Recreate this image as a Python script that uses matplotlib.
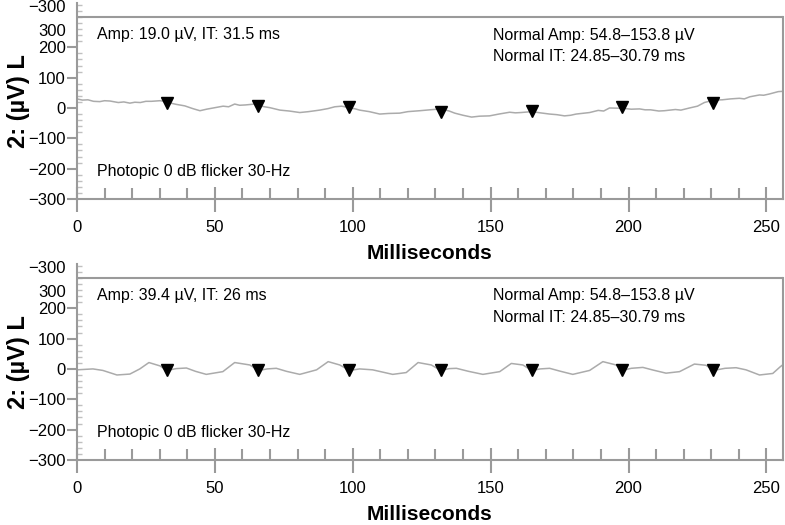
import matplotlib.pyplot as plt
from matplotlib.ticker import MultipleLocator

plt.rcParams['font.family'] = ['Liberation Sans', 'DejaVu Sans']

# Top trace (amplitude 19.0 uV)
top_ms = [0, 2, 4, 6, 8.3, 10, 12, 15, 17, 19.2, 21, 23, 25, 27, 30.1, 32.6, 34, 36,
          39.1, 42, 44.6, 47, 50.0, 53, 55, 57.2, 59, 61, 64.5, 66, 68, 70, 73.6, 77,
          80.8, 84, 88.0, 91, 93.5, 96, 98.6, 101, 102.5, 106, 109.8, 113, 117.0,
          120, 124.3, 128, 131.9, 135, 137.0, 140, 143.1, 146, 149.6, 153, 156.9,
          159, 161, 164.9, 168, 171.4, 174, 176.8, 179, 181, 185.9, 189, 191, 193.1,
          197.8, 201, 204.0, 206, 208, 211, 213.0, 217, 219, 222.1, 225, 227.5,
          230.8, 234, 237, 240.2, 242, 244, 247.5, 249, 251, 254.3, 256]
top_uv = [30, 26, 27, 22, 21, 24, 23, 18, 20, 16, 19, 18, 22, 22, 24, 21, 16, 12,
          7, -2, -9, -4, 1, 6, 4, 13, 9, 10, 13, 8, 4, 1, -7, -10,
          -15, -12, -7, -2, 4, 6, 1, -3, -7, -12, -20, -18, -17,
          -12, -9, -6, -3, -10, -17, -24, -30, -27, -26, -20, -14,
          -16, -15, -12, -16, -20, -22, -26, -24, -20, -15, -8, -10, 0,
          -1, -4, -3, -6, -6, -10, -9, -5, -7, 0, 6, 18,
          26, 27, 30, 32, 30, 37, 43, 42, 46, 54, 55]
top_mark_ms = [32.6, 65.6, 98.6, 131.9, 164.9, 197.8, 230.8]
top_mark_uv = [18, 7, 2, -12, -10, 2, 17]

# Bottom trace (amplitude 39.4 uV)
bot_ms = [0, 5.8, 9.4, 14.5, 19.2, 22.8, 26.1, 30.1, 32.6, 36, 39.7, 43, 46.9, 52.9,
          57.2, 62.7, 65.9, 69, 72.3, 76, 80.8, 86.9, 91.1, 95.3, 98.9, 102.5, 107.2,
          114.5, 119.4, 123.7, 128.5, 131.9, 135, 137.6, 142, 147.2, 153.3, 157.5,
          161.7, 164.9, 168, 171.4, 175, 179.8, 185.9, 190.7, 195.5, 197.8, 201,
          205.2, 209, 213.6, 218.5, 223.9, 228.1, 230.8, 235, 239.0, 242.6, 247.5,
          252.3, 255.0, 256]
bot_uv = [-3, 0, -5, -20, -17, 0, 21, 10, -5, 1, 3, -8, -18, -9,
          21, 13, -5, 0, 2, -8, -18, -3, 24, 13, -5, 0, -3,
          -18, -12, 21, 13, -5, 1, 2, -8, -18, -9, 18,
          13, -5, 0, 2, -7, -18, -5, 24, 13, -5, 2,
          5, -4, -14, -9, 16, 12, -5, 2, 4, -3, -20,
          -15, 7, 14]
bot_mark_ms = [32.6, 65.6, 98.6, 131.9, 164.9, 197.8, 230.8]
bot_mark_uv = [-3, -3, -3, -3, -3, -3, -3]

panels = [
    (top_ms, top_uv, top_mark_ms, top_mark_uv, 'Amp: 19.0 \u00b5V, IT: 31.5 ms'),
    (bot_ms, bot_uv, bot_mark_ms, bot_mark_uv, 'Amp: 39.4 \u00b5V, IT: 26 ms'),
]
normal_text = 'Normal Amp: 54.8\u2013153.8 \u00b5V\nNormal IT: 24.85\u201330.79 ms'
y_ticks = [-300, -200, -100, 0, 100, 200, 257, 335]
y_labels = ['\u2212300', '\u2212200', '\u2212100', '0', '100', '200', '300', '\u2212300']

axis_col = '#9a9a9a'
fig = plt.figure(figsize=(7.85, 5.25), dpi=100)
bottoms = [0.621, 0.124]

for (ms, uv, mk_ms, mk_uv, amp_text), b in zip(panels, bottoms):
    ax = fig.add_axes([0.098, b, 0.8994, 0.3726])
    ax.plot(ms, uv, color='#ababab', lw=1.1)
    ax.plot(mk_ms, mk_uv, 'v', color='black', markersize=8, linestyle='none')
    ax.axhline(300, color=axis_col, lw=1.5)
    ax.set_xlim(0, 256)
    ax.set_ylim(-300, 345)

    ax.spines['top'].set_visible(False)
    ax.spines['right'].set_bounds(-300, 300)
    for s in ['left', 'right', 'bottom']:
        ax.spines[s].set_color(axis_col)
        ax.spines[s].set_linewidth(1.5)

    ax.set_xticks(range(0, 251, 50))
    ax.xaxis.set_minor_locator(MultipleLocator(10))
    ax.tick_params(axis='x', which='major', direction='inout', length=18,
                   width=1.5, color=axis_col, labelsize=12, pad=6)
    ax.tick_params(axis='x', which='minor', direction='in', length=8,
                   width=1.5, color=axis_col)

    ax.set_yticks(y_ticks)
    ax.set_yticklabels(y_labels)
    ax.yaxis.set_minor_locator(MultipleLocator(20))
    ax.tick_params(axis='y', which='major', direction='out', length=7,
                   width=1.5, color=axis_col, labelsize=12, pad=1)
    ax.tick_params(axis='y', which='minor', direction='in', length=3.5,
                   width=1, color='#c0c0c0')
    for t in ax.yaxis.get_major_ticks()[-2:]:
        t.tick1line.set_visible(False)

    ax.set_xlabel('Milliseconds', fontsize=15, fontweight='bold', labelpad=6.5)
    ax.set_ylabel('2: (\u00b5V) L', fontsize=17, fontweight='bold', labelpad=-1.5)

    ax.text(7.2, 242, amp_text, fontsize=11.5, va='center')
    ax.text(151, 205, normal_text, fontsize=11.5, va='center', linespacing=1.55)
    ax.text(7.2, -210, 'Photopic 0 dB flicker 30-Hz', fontsize=11.5, va='center')

fig.savefig('out.png', dpi=100)
